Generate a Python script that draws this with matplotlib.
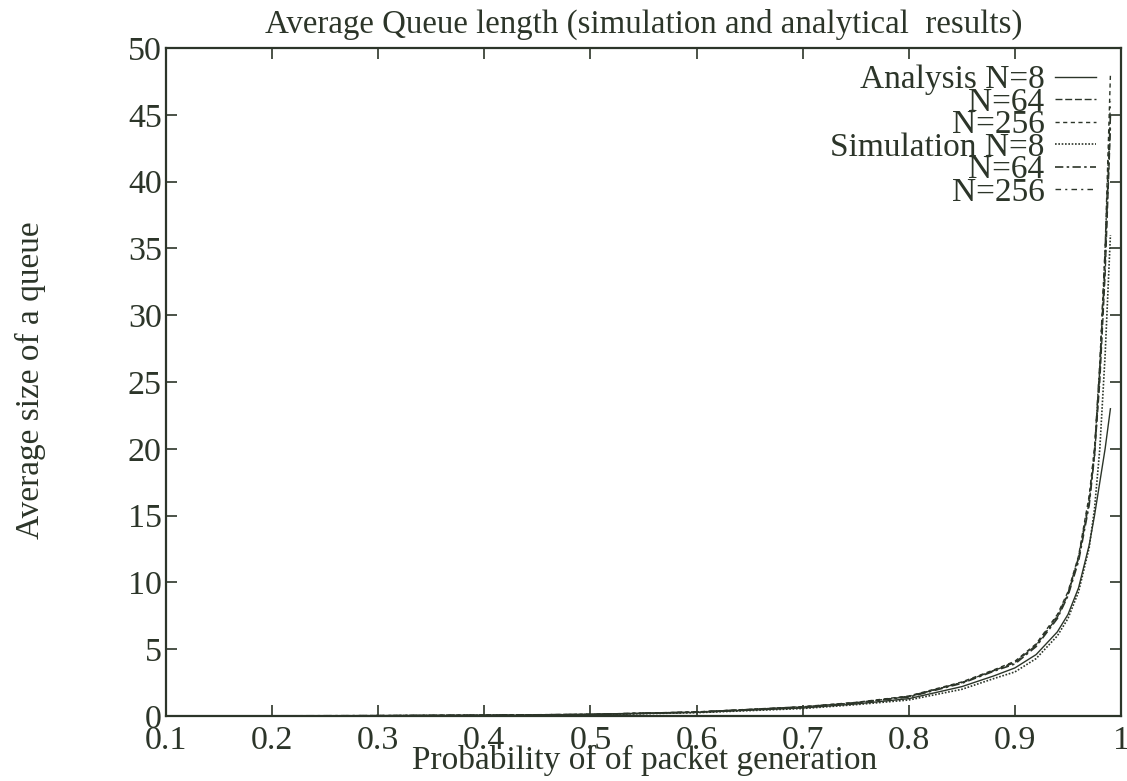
import matplotlib.pyplot as plt

# load values
p = [0.1, 0.2, 0.3, 0.4, 0.5, 0.6, 0.7, 0.75, 0.8, 0.85, 0.88, 0.9,
     0.92, 0.94, 0.95, 0.96, 0.97, 0.975, 0.98, 0.985, 0.99]

ana_8 = [0.0, 0.01, 0.02, 0.05, 0.11, 0.27, 0.6, 0.9, 1.3, 2.2, 3.0, 3.6,
         4.6, 6.3, 7.6, 9.6, 12.8, 15.0, 17.5, 20.0, 23.0]
ana_64 = [0.0, 0.01, 0.03, 0.06, 0.13, 0.3, 0.68, 1.0, 1.45, 2.5, 3.4, 4.0,
          5.3, 7.4, 9.1, 11.8, 16.0, 19.5, 25.0, 33.0, 44.0]
ana_256 = [0.0, 0.01, 0.03, 0.06, 0.13, 0.31, 0.7, 1.02, 1.5, 2.55, 3.45, 4.1,
           5.4, 7.6, 9.3, 12.0, 16.5, 20.0, 26.0, 35.0, 48.0]
sim_8 = [0.0, 0.01, 0.02, 0.05, 0.1, 0.25, 0.56, 0.85, 1.2, 2.0, 2.8, 3.3,
         4.3, 6.0, 7.3, 9.3, 12.6, 15.5, 20.0, 27.0, 36.0]
sim_64 = [0.0, 0.01, 0.03, 0.06, 0.12, 0.29, 0.66, 0.98, 1.42, 2.45, 3.35, 3.9,
          5.2, 7.3, 9.0, 11.6, 15.8, 19.5, 26.0, 34.0, 45.0]
sim_256 = [0.0, 0.01, 0.03, 0.06, 0.13, 0.3, 0.69, 1.0, 1.48, 2.5, 3.4, 4.05,
           5.35, 7.5, 9.2, 11.9, 16.3, 20.0, 26.5, 35.0, 46.0]

xticks = [0.1, 0.2, 0.3, 0.4, 0.5, 0.6, 0.7, 0.8, 0.9, 1.0]
xticklabels = ['0.1', '0.2', '0.3', '0.4', '0.5', '0.6', '0.7', '0.8', '0.9', '1']
yticks = [0, 5, 10, 15, 20, 25, 30, 35, 40, 45, 50]

ink = '#2c3529'
plt.rcParams['font.family'] = ['Liberation Serif', 'DejaVu Serif']

fig = plt.figure(figsize=(11.27, 7.81), dpi=100)
ax = fig.add_axes([0.1473, 0.0832, 0.8474, 0.8553])

ax.plot(p, ana_8, color=ink, lw=1.0, ls='-', label='Analysis N=8')
ax.plot(p, ana_64, color=ink, lw=1.0, ls=(0, (5, 2)), label='N=64')
ax.plot(p, ana_256, color=ink, lw=1.0, ls=(0, (3, 2.5)), label='N=256')
ax.plot(p, sim_8, color=ink, lw=1.2, ls=(0, (1, 1)), label='Simulation N=8')
ax.plot(p, sim_64, color=ink, lw=1.2, ls=(0, (5, 2, 1.5, 2)), label='N=64')
ax.plot(p, sim_256, color=ink, lw=1.0, ls=(0, (4, 3, 1.5, 3)), label='N=256')

ax.set_xlim(0.1, 1.0)
ax.set_ylim(0, 50)
ax.set_xticks(xticks)
ax.set_xticklabels(xticklabels)
ax.set_yticks(yticks)
ax.tick_params(direction='in', length=8, width=1.2, colors=ink,
               labelsize=24.5, top=True, right=True, pad=3)
ax.tick_params(axis='x', pad=7)
for s in ax.spines.values():
    s.set_color(ink)
    s.set_linewidth(1.6)

ax.set_title('Average Queue length (simulation and analytical  results)',
             fontsize=23.7, color=ink, pad=11)
ax.set_xlabel('Probability of of packet generation', fontsize=24, color=ink)
ax.xaxis.set_label_coords(0.5016, -0.043)
ax.set_ylabel('Average size of a queue', fontsize=24, color=ink, va='center')
ax.yaxis.set_label_coords(-0.1424, 0.503)

leg = ax.legend(loc='upper right', bbox_to_anchor=(0.974, 0.975),
                frameon=False, markerfirst=False, fontsize=24,
                labelspacing=-0.24, handlelength=1.25, handletextpad=0.3,
                borderpad=0, borderaxespad=0)
for t in leg.get_texts():
    t.set_color(ink)

fig.savefig('out.png', dpi=100)
